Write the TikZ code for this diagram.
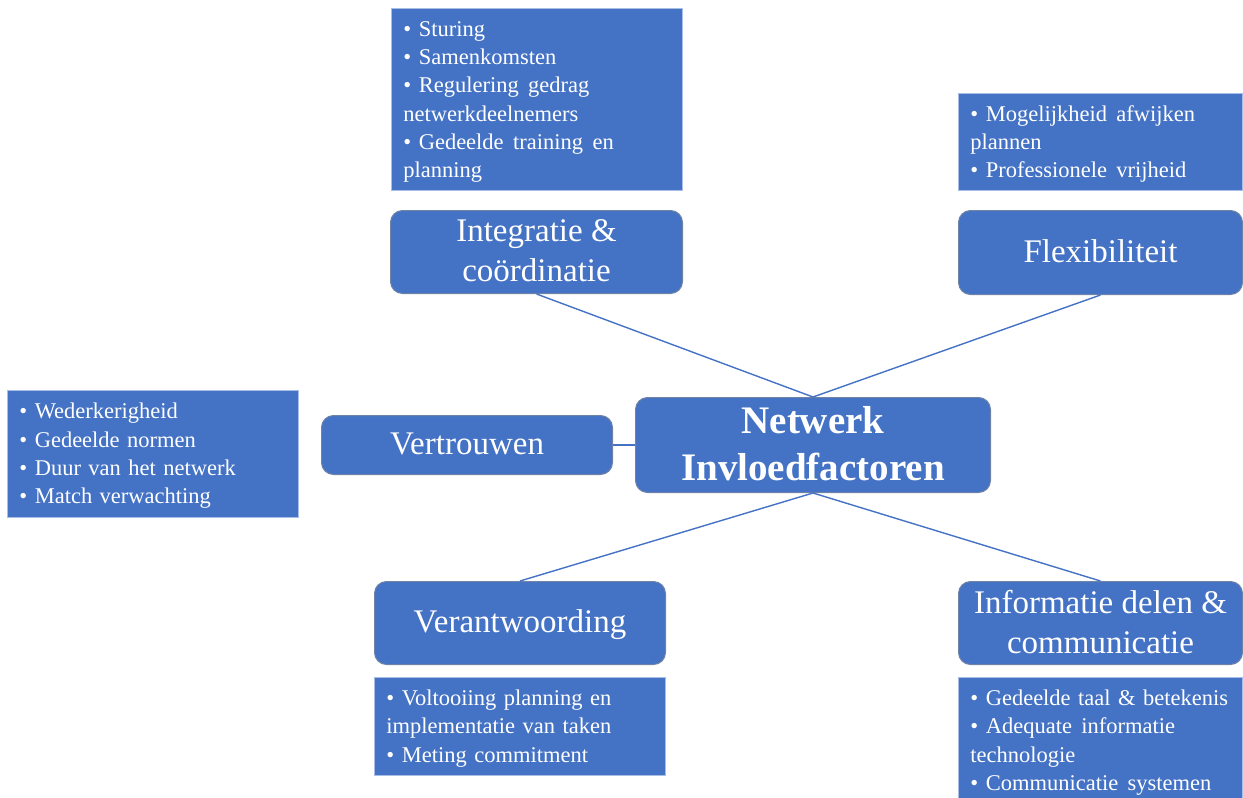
\documentclass[tikz,border=0pt]{standalone}
\usepackage{fontspec}
\setmainfont{Liberation Serif}
\definecolor{boxfill}{HTML}{4472C4}
\definecolor{boxedge}{HTML}{6F83A6}
\definecolor{listedge}{HTML}{A9BEE6}
\definecolor{linkcol}{HTML}{4472C4}
\newcommand{\wsp}{\hspace{0.42em}}
\tikzset{
  factor/.style={draw=boxedge, line width=1pt, fill=boxfill, rounded corners=12pt,
    text=white, align=center, inner sep=0pt, anchor=north west,
    font=\fontsize{33}{40}\selectfont, text depth=3pt},
  hubbox/.style={factor, font=\bfseries\fontsize{39}{47}\selectfont},
  listbox/.style={draw=listedge, line width=0.8pt, fill=boxfill, text=white,
    align=left, inner xsep=12pt, inner ysep=0pt, anchor=north west,
    font=\fontsize{22.5}{28.3}\selectfont},
  link/.style={draw=linkcol, line width=1.4pt}
}
\begin{document}
\begin{tikzpicture}[x=1pt,y=-1pt]
\useasboundingbox (0,0) rectangle (1243,798);
\clip (0,0) rectangle (1243,798);

% central hub
\node[hubbox, minimum width=355pt, minimum height=95pt] (hub) at (635,397)
  {Netwerk\\Invloedfactoren};

% factor boxes
\node[factor, minimum width=292pt, minimum height=83pt] (integ) at (390,210)
  {Integratie \&\\coördinatie};
\node[factor, minimum width=284pt, minimum height=84pt] (flex) at (958,210)
  {Flexibiliteit};
\node[factor, minimum width=291pt, minimum height=59pt] (trust) at (321,415)
  {Vertrouwen};
\node[factor, minimum width=291pt, minimum height=83pt] (acc) at (374,581)
  {Verantwoording};
\node[factor, minimum width=284pt, minimum height=83pt] (info) at (958,581)
  {Informatie delen \&\\communicatie};

% bullet lists
\node[listbox, text width=267pt, minimum height=182pt] (integList) at (391,8)
  {\strut• Sturing\\• Samenkomsten\\• Regulering\wsp gedrag\\netwerkdeelnemers\\• Gedeelde\wsp training\wsp en\\planning};
\node[listbox, text width=260pt, minimum height=97pt] (flexList) at (958,93)
  {\strut• Mogelijkheid\wsp afwijken\\plannen\\• Professionele\wsp vrijheid};
\node[listbox, text width=267pt, minimum height=127pt] (trustList) at (7,390)
  {\strut• Wederkerigheid\\• Gedeelde normen\\• Duur van het netwerk\\• Match verwachting};
\node[listbox, text width=267pt, minimum height=98pt] (accList) at (374,677)
  {\strut• Voltooiing planning en\\implementatie van taken\\• Meting commitment};
\node[listbox, text width=260pt, minimum height=126pt] (infoList) at (958,677)
  {\strut• Gedeelde taal \& betekenis\\• Adequate\wsp informatie\\technologie\\• Communicatie\wsp systemen};

% connectors
\draw[link] (hub.north) -- (integ.south);
\draw[link] (hub.north) -- (flex.south);
\draw[link] (trust.east) -- (hub.west);
\draw[link] (hub.south) -- (acc.north);
\draw[link] (hub.south) -- (info.north);
\end{tikzpicture}
\end{document}
